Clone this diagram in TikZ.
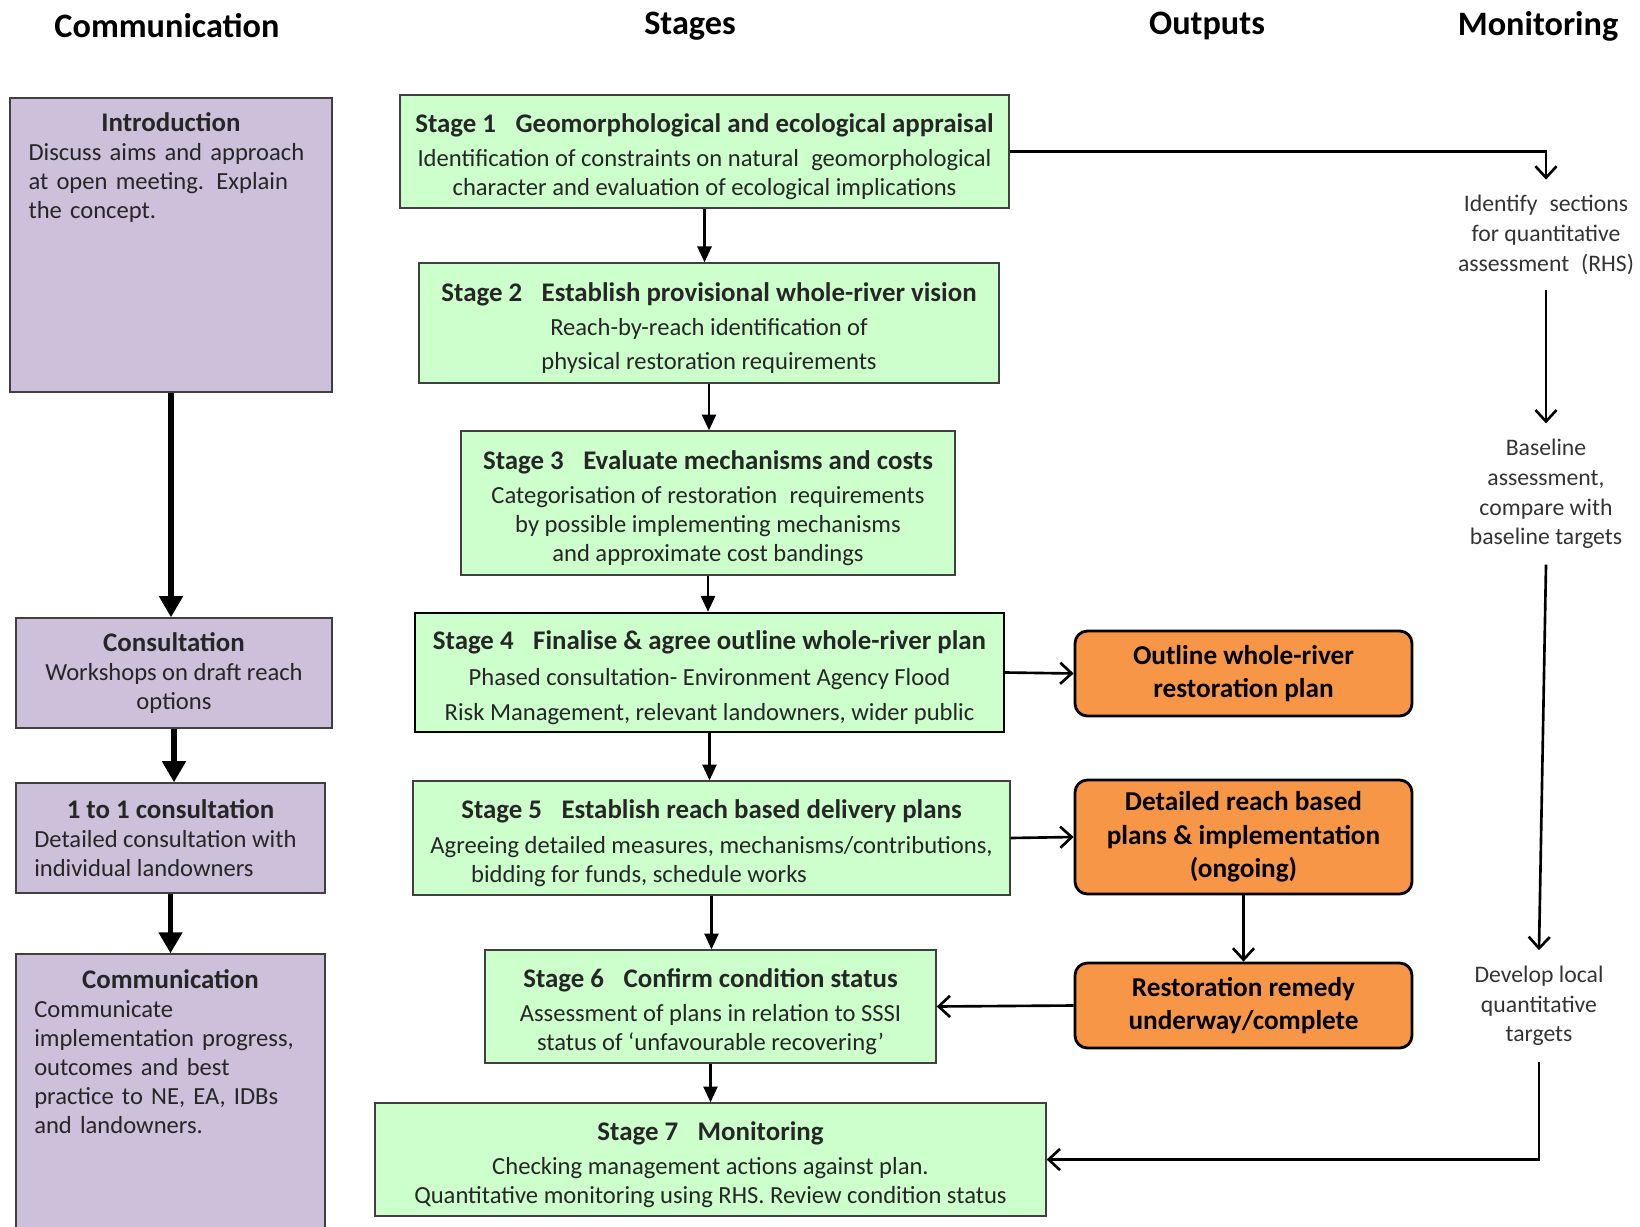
\documentclass[tikz,border=0pt]{standalone}
\usepackage{fontspec}
\setmainfont{Carlito}
\usetikzlibrary{arrows.meta,positioning,calc}
\definecolor{lav}{HTML}{CCC0DA}
\definecolor{mint}{HTML}{CCFFCC}
\definecolor{orng}{HTML}{F79646}
\definecolor{txt}{HTML}{262626}
\newcommand{\hdfont}{\fontsize{19.5}{23}\selectfont\bfseries}
\newcommand{\ttlfont}{\fontsize{15.3}{19}\selectfont\bfseries}
\newcommand{\bdyfont}{\fontsize{14}{16.5}\selectfont}
\newcommand{\monfont}{\fontsize{13.5}{16.9}\selectfont}
\newcommand{\stitle}[1]{{\ttlfont\rule{0pt}{16.5pt}#1}}
\tikzset{
  hdr/.style  ={font=\hdfont,inner sep=0pt},
  comm/.style ={draw=black!75,line width=0.8pt,fill=lav,inner sep=0pt},
  ctxt/.style ={font=\bdyfont,text=txt,text width=5.7cm,align=left,inner sep=0pt},
  stage/.style={draw=black!75,line width=0.8pt,fill=mint,font=\bdyfont,text=txt,align=center,inner sep=0pt},
  outp/.style ={draw=black,line width=1.6pt,fill=orng,rounded corners=7pt,font=\fontsize{15.5}{19}\selectfont\bfseries,align=center,inner sep=0pt},
  mon/.style  ={font=\monfont,text=black!80,align=center,inner sep=0pt,outer sep=9pt},
  ar/.style   ={-{Triangle[length=9pt,width=8pt]},line width=1.4pt},
  thk/.style  ={-{Triangle[length=12pt,width=13pt]},line width=2.9pt},
  oar/.style  ={-{Straight Barb[length=6.5pt,width=12pt]},line width=1.5pt},
}
\begin{document}
\begin{tikzpicture}[x=0.02cm,y=-0.02cm]
  \useasboundingbox (0,0) rectangle (1640,1227);
  \node[hdr] (h1) at (167,26) {Communication};
  \node[hdr] (h2) at (690,26) {Stages};
  \node[hdr] (h3) at (1207,26) {Outputs};
  \node[hdr] (h4) at (1538,26) {Monitoring};

  \node[comm,minimum width=6.44cm,minimum height=5.88cm] (intro) at (171,245) {};
  \node[ctxt,anchor=north] (intro-t) at ([yshift=-0.3cm]intro.north)
    {{\centering\ttlfont Introduction\par}Discuss aims and approach\\at open meeting.\enspace Explain\\the concept.};
  \node[comm,minimum width=6.32cm,minimum height=2.2cm,font=\bdyfont,text=txt,align=center] (consult) at (174,673)
    {{\ttlfont Consultation}\\Workshops on draft reach\\options};
  \node[comm,minimum width=6.18cm,minimum height=2.2cm] (one) at (170.5,838)
    {\begin{minipage}{5.45cm}\bdyfont\color{txt}{\centering\ttlfont 1 to 1 consultation\par}Detailed consultation with\\individual landowners\end{minipage}};
  \node[comm,minimum width=6.18cm,minimum height=5.56cm] (commb) at (170.5,1093) {};
  \node[ctxt,anchor=north,text width=5.45cm] (commb-t) at ([yshift=-0.32cm]commb.north)
    {{\centering\ttlfont Communication\par}Communicate\\implementation progress,\\outcomes and best\\practice to NE, EA, IDBs\\and landowners.};

  \draw[thk] (intro.south) -- (intro.south |- consult.north);
  \draw[thk] (consult.south) -- (consult.south |- one.north);
  \draw[thk] (one.south) -- (one.south |- commb.north);

  \node[stage,minimum width=12.18cm,minimum height=2.26cm] (s1) at (704.5,151.5)
    {\stitle{Stage 1\hspace{0.5em} Geomorphological and ecological appraisal}\\[3pt]
     Identification of constraints on natural\enspace geomorphological\\character and evaluation of ecological implications};
  \node[stage,minimum width=11.6cm,minimum height=2.4cm] (s2) at (709,323)
    {\stitle{Stage 2\hspace{0.5em} Establish provisional whole-river vision}\\[3pt]
     Reach-by-reach identification of\\[3pt]physical restoration requirements};
  \node[stage,minimum width=9.88cm,minimum height=2.88cm] (s3) at (708,503)
    {\stitle{Stage 3\hspace{0.5em} Evaluate mechanisms and costs}\\[3pt]
     Categorisation of restoration\enspace requirements\\by possible implementing mechanisms\\and approximate cost bandings};
  \node[stage,draw=black,line width=1.4pt,minimum width=11.78cm,minimum height=2.38cm] (s4) at (709.5,672.5)
    {\stitle{Stage 4\hspace{0.5em} Finalise \& agree outline whole-river plan}\\[4pt]
     Phased consultation- Environment Agency Flood\\[3pt]Risk Management, relevant landowners, wider public};
  \node[stage,minimum width=11.94cm,minimum height=2.28cm] (s5) at (711.5,838)
    {\stitle{Stage 5\hspace{0.5em} Establish reach based delivery plans}\\[3pt]
     Agreeing detailed measures, mechanisms/contributions,\\bidding for funds, schedule works\hspace*{2.9cm}};
  \node[stage,minimum width=9.02cm,minimum height=2.26cm] (s6) at (710.5,1006.5)
    {\stitle{Stage 6\hspace{0.5em} Confirm condition status}\\[3pt]
     Assessment of plans in relation to SSSI\\status of ‘unfavourable recovering’};
  \node[stage,minimum width=13.42cm,minimum height=2.26cm] (s7) at (710.5,1159.5)
    {\stitle{Stage 7\hspace{0.5em} Monitoring}\\[3pt]
     Checking management actions against plan.\\Quantitative monitoring using RHS. Review condition status};

  \draw[ar] (s1.south) -- (s1.south |- s2.north);
  \draw[ar] (s2.south) -- (s2.south |- s3.north);
  \draw[ar] (s3.south) -- (s3.south |- s4.north);
  \draw[ar] (s4.south) -- (s4.south |- s5.north);
  \draw[ar] (s5.south) -- (s5.south |- s6.north);
  \draw[ar] (s6.south) -- (s6.south |- s7.north);

  \node[outp,minimum width=6.74cm,minimum height=1.7cm] (o1) at (1243.5,673.5) {Outline whole-river\\restoration plan};
  \node[outp,minimum width=6.74cm,minimum height=2.28cm] (o2) at (1243.5,837) {Detailed reach based\\plans \& implementation\\(ongoing)};
  \node[outp,minimum width=6.74cm,minimum height=1.7cm] (o3) at (1243.5,1005.5) {Restoration remedy\\underway/complete};

  \draw[oar] (s4.east) -- (o1.west);
  \draw[oar] (s5.east) -- (o2.west);
  \draw[oar] (o2.south) -- (o3.north);
  \draw[oar] (o3.west) -- (s6.east);

  \node[mon] (m1) at (1546,235) {Identify\enspace sections\\for quantitative\\assessment\enspace(RHS)};
  \node[mon] (m2) at (1546,494) {Baseline\\assessment,\\compare with\\baseline targets};
  \node[mon] (m3) at (1539,1006) {Develop local\\quantitative\\targets};

  \draw[oar] (s1.east) -| (m1.north);
  \draw[oar] (m1.south) -- (m2.north);
  \draw[oar] (m2.south) -- (m3.north);
  \draw[oar] (m3.south) |- (s7.east);
\end{tikzpicture}
\end{document}
